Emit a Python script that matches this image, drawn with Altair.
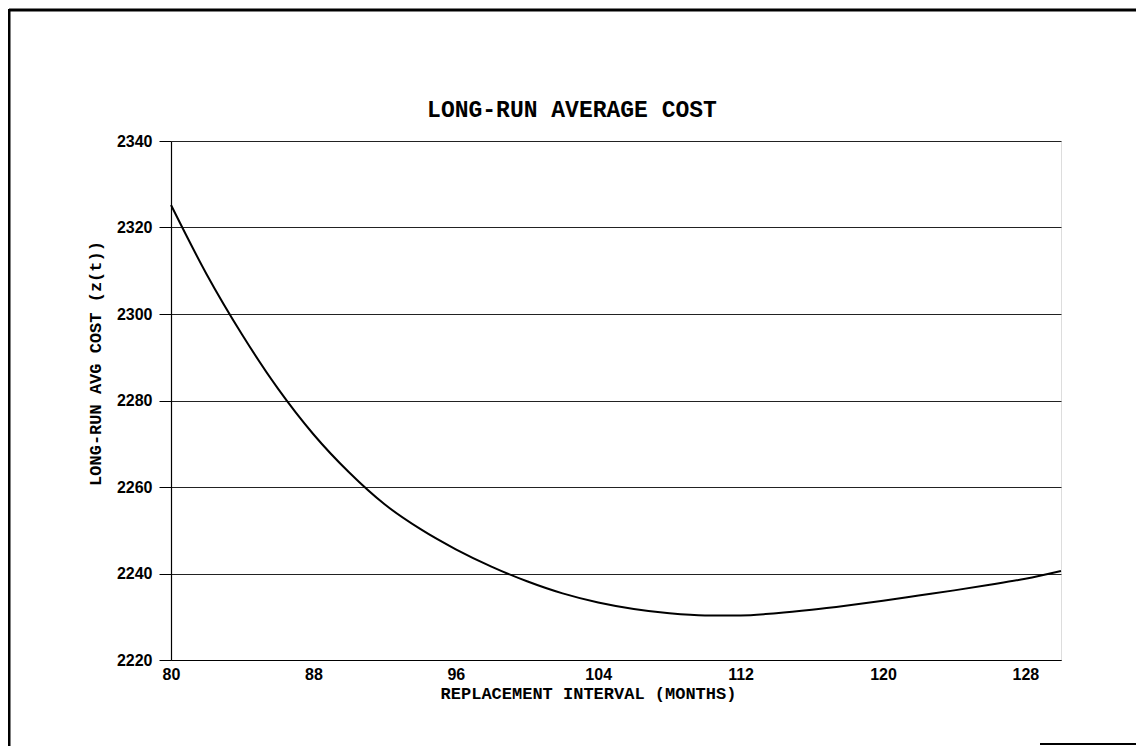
import altair as alt
import pandas as pd

# Data
months = [80, 82, 84, 86, 88, 90, 92, 94, 96, 98, 100, 102, 104, 106, 108,
          110, 112, 114, 116, 118, 120, 122, 124, 126, 128, 130]
cost = [2325.2, 2309.2, 2295.2, 2282.8, 2272.2, 2263.4, 2256.0, 2250.3,
        2245.6, 2241.6, 2238.2, 2235.4, 2233.3, 2231.8, 2230.8, 2230.3,
        2230.3, 2230.8, 2231.6, 2232.6, 2233.7, 2234.9, 2236.1, 2237.4,
        2238.8, 2240.6]
x_ticks = [80, 88, 96, 104, 112, 120, 128]
y_ticks = [2220, 2240, 2260, 2280, 2300, 2320, 2340]
title_text = "LONG-RUN AVERAGE COST"
x_title = "REPLACEMENT INTERVAL (MONTHS)"
y_title = "LONG-RUN AVG COST (z(t))"

df = pd.DataFrame({"month": months, "cost": cost})
one = pd.DataFrame({"a": [0]})

W, H = 890, 519

line = alt.Chart(df).mark_line(color="black", strokeWidth=2, interpolate="monotone").encode(
    x=alt.X("month:Q",
            scale=alt.Scale(domain=[80, 130], nice=False, zero=False),
            axis=alt.Axis(values=x_ticks, title=x_title, grid=False, ticks=False,
                          format="d",
                          labelPadding=6, labelFont="Liberation Sans", labelFontWeight="bold",
                          labelFontSize=16, labelColor="black", labelFlush=False,
                          titleFont="Liberation Mono", titleFontSize=17, titleFontWeight="bold",
                          titleColor="black", titleX=417, titlePadding=3,
                          domainColor="black", domainWidth=1)),
    y=alt.Y("cost:Q",
            scale=alt.Scale(domain=[2220, 2340], nice=False, zero=False),
            axis=alt.Axis(values=y_ticks, title=y_title, grid=True, gridColor="#222222",
                          format="d",
                          gridWidth=1, tickSize=12, tickColor="black", tickWidth=1,
                          labelPadding=7, labelFont="Liberation Sans", labelFontWeight="bold",
                          labelFontSize=16, labelColor="black",
                          titleFont="Liberation Mono", titleFontSize=17, titleFontWeight="bold",
                          titleColor="black", titleX=-76, titleY=222, titleAngle=270,
                          titleAlign="center", titleBaseline="middle",
                          domainColor="black", domainWidth=1.2)),
)

# Chart title as a text mark (placed above the plot area)
title = alt.Chart(one).mark_text(font="Liberation Mono", fontSize=23, fontWeight="bold",
                                 color="black", align="center", baseline="middle").encode(
    x=alt.value(401), y=alt.value(-31), text=alt.value(title_text))

# Outer frame (decorative border of the scanned page)
top_border = alt.Chart(one).mark_rule(color="black", strokeWidth=3).encode(
    x=alt.value(-162), x2=alt.value(W + 75), y=alt.value(-131))
left_border = alt.Chart(one).mark_rule(color="black", strokeWidth=3).encode(
    x=alt.value(-162), y=alt.value(-132), y2=alt.value(H + 86))
bottom_border = alt.Chart(one).mark_rule(color="black", strokeWidth=2).encode(
    x=alt.value(869), x2=alt.value(W + 75), y=alt.value(H + 84))

chart = alt.layer(line, title, top_border, left_border, bottom_border).properties(
    width=W, height=H,
    padding={"left": 163, "top": 133, "right": 75, "bottom": 86},
    autosize=alt.AutoSizeParams(type="none"),
).configure_view(stroke=None).configure(background="white")

chart.save("out.html", embed_options={"renderer": "svg", "actions": False})
